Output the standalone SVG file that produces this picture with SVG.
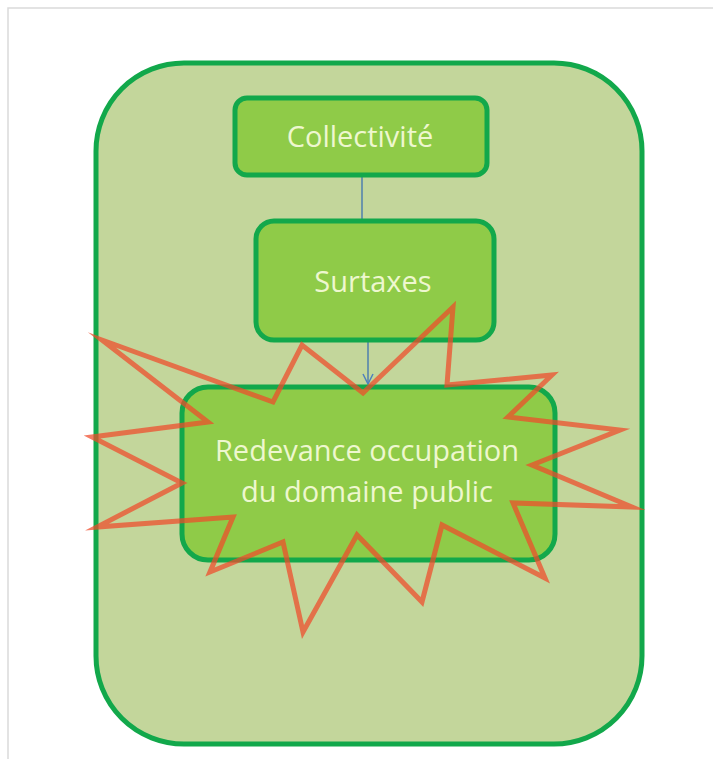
<svg xmlns="http://www.w3.org/2000/svg" width="713" height="759" viewBox="0 0 713 759">
<style>
.box{fill:#8fcb48;stroke:#12a84b;stroke-width:5}
.lbl{font-family:"Open Sans","Noto Sans","Liberation Sans",sans-serif;font-size:29px;fill:#eef7cf;text-anchor:middle}
.conn{stroke:#4f7fae;stroke-width:1.5;fill:none}
</style>
<defs>
<marker id="arr" viewBox="0 0 12 12" refX="11" refY="6" markerWidth="12" markerHeight="12" markerUnits="userSpaceOnUse" orient="auto">
<path d="M1,1 L11,6 L1,11" fill="none" stroke="#4f81bd" stroke-width="1.5"/>
</marker>
</defs>
<rect width="713" height="759" fill="#ffffff"/>
<rect x="8" y="8" width="720" height="770" fill="none" stroke="#dadada" stroke-width="1.5"/>
<g id="container">
<rect x="96" y="63" width="546" height="681" rx="88" ry="88" fill="#c3d69b" stroke="#12a84b" stroke-width="5"/>
</g>
<g id="connectors">
<line class="conn" x1="362" y1="176" x2="362" y2="220"/>
<line class="conn" x1="368" y1="341" x2="368" y2="384" marker-end="url(#arr)"/>
</g>
<g id="collectivite">
<rect class="box" x="235" y="98" width="252" height="77" rx="12"/>
<text class="lbl" x="360" y="147">Collectivité</text>
</g>
<g id="surtaxes">
<rect class="box" x="256" y="221" width="238" height="119" rx="18"/>
<text class="lbl" x="373" y="292">Surtaxes</text>
</g>
<g id="redevance">
<rect class="box" x="182" y="387" width="373" height="173" rx="26"/>
<text class="lbl" x="367" y="461">Redevance occupation</text>
<text class="lbl" x="367" y="502">du domaine public</text>
</g>
<g id="starburst">
<polygon points="102,340 273,402 302,345 363,393 453,307 447,385 552,375 508,417 620,430 532,465 632,507 513,503 545,578 442,525 422,602 357,535 303,632 283,542 210,572 233,517 97,527 182,483 92,437 208,422" fill="none" stroke="#f04a2a" stroke-opacity="0.72" stroke-width="5" stroke-linejoin="miter" stroke-miterlimit="20"/>
</g>
</svg>
